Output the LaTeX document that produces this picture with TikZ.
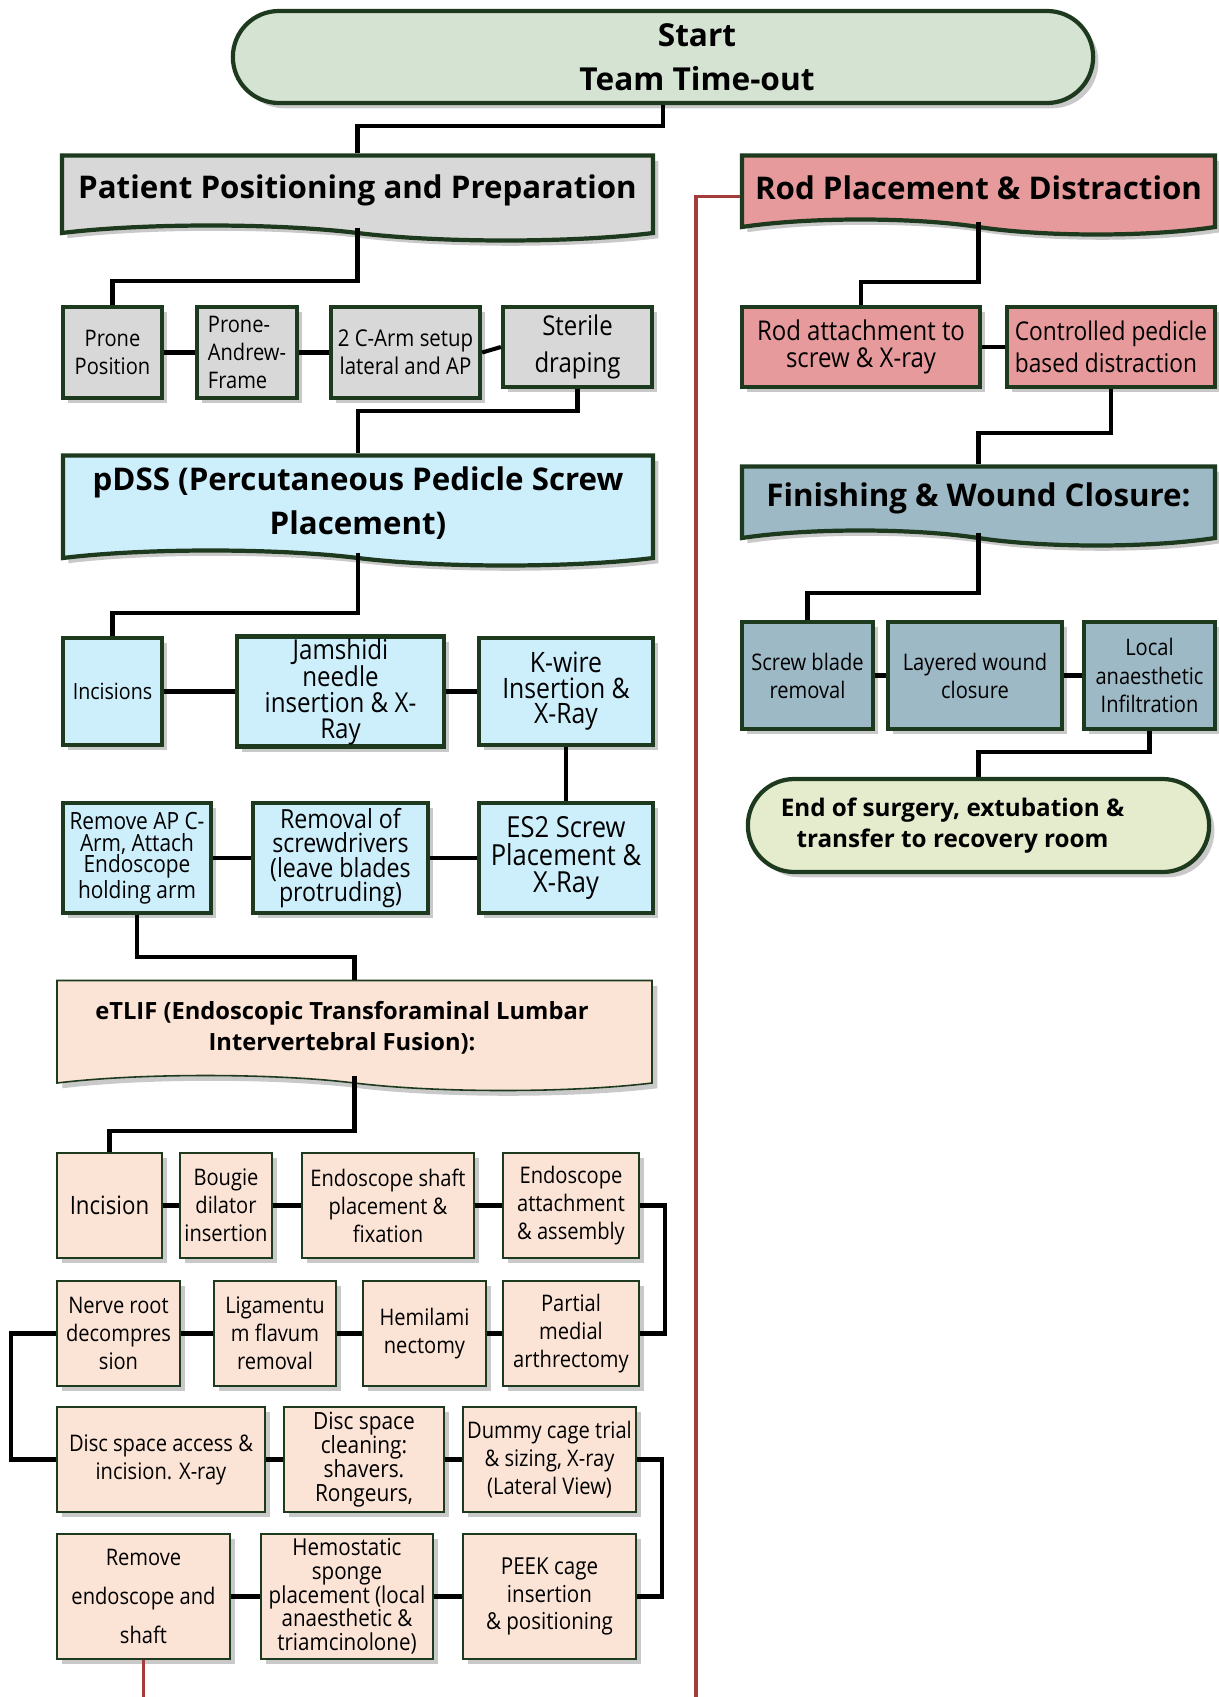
\documentclass[tikz,border=0pt]{standalone}
\usepackage{fontspec}
\setmainfont{Open Sans}
\newfontfamily\boxfont{Open Sans}[FakeStretch=0.88]
\usepackage{xcolor}
\usetikzlibrary{shapes.symbols, shapes.misc, shadows, positioning}
\definecolor{Pine}{HTML}{1E3A1E}
\definecolor{Sage}{HTML}{D5E3D3}
\definecolor{Ash}{HTML}{D8D8D8}
\definecolor{Sky}{HTML}{CDEEFB}
\definecolor{Rose}{HTML}{E79A9C}
\definecolor{Slate}{HTML}{9DB9C6}
\definecolor{Cream}{HTML}{E5EBCD}
\definecolor{Peach}{HTML}{FBE3D6}
\definecolor{Brick}{HTML}{A43C3C}
\tikzset{
  wh/.style 2 args={minimum width={#1*0.02cm}, minimum height={#2*0.02cm}},
  fs/.style 2 args={font=\boxfont\fontsize{#1}{#2}\selectfont},
  softshadow/.style={drop shadow={shadow xshift=3pt, shadow yshift=-3pt, opacity=0.3, fill=black!70}},
  stepbox/.style={rectangle, draw=Pine, line width=2.4pt, align=center, inner sep=1pt, softshadow, fs={13}{16}},
  etlifbox/.style={rectangle, draw=Pine, line width=0.9pt, fill=Peach, align=center, inner sep=1pt, softshadow, fs={13}{16}},
  headbox/.style={tape, tape bend top=none, tape bend bottom=out and in, tape bend height=0.3cm,
                  draw=Pine, line width=2.4pt, align=center, inner sep=2pt, softshadow,
                  font=\bfseries\fontsize{17.8}{25}\selectfont},
  ovalbox/.style={rounded rectangle, draw=Pine, line width=2.4pt, align=center, softshadow,
                  font=\bfseries\fontsize{18}{25}\selectfont},
  link/.style={line width=2.3pt, draw=black},
  redlink/.style={line width=1.8pt, draw=Brick}
}

\begin{document}
\begin{tikzpicture}[x=0.02cm, y=0.02cm]
    \useasboundingbox (0,0) rectangle (1219,-1697);

    % Start
    \node[ovalbox, fill=Sage, wh={872}{92}] (start) at (663,-57)
        {\hspace*{1.36cm}Start\\\hspace*{1.36cm}Team Time-out};

    % Patient positioning
    \node[headbox, fill=Ash, wh={591}{85}] (prep) at (357.5,-190.5) {Patient Positioning and Preparation};
    \node[stepbox, fill=Ash, wh={99}{91}] (prone) at (112.5,-352.5) {Prone\\Position};
    \node[stepbox, fill=Ash, wh={100}{91}, align=left] (frame) at (247,-352.5) {Prone-\\Andrew-\\Frame};
    \node[stepbox, fill=Ash, wh={149}{91}, fs={13.2}{16}] (carm) at (405.5,-352.5) {2 C-Arm setup\\lateral and AP};
    \node[stepbox, fill=Ash, wh={149}{80}, fs={15.5}{21}] (drape) at (577.5,-347) {Sterile\\draping};

    % pDSS
    \node[headbox, fill=Sky, wh={590}{110}] (pdss) at (358,-503) {pDSS (Percutaneous Pedicle Screw\\Placement)};
    \node[stepbox, fill=Sky, wh={99}{107}, fs={12.7}{16}] (cut) at (112.5,-691.5) {Incisions};
    \node[stepbox, fill=Sky, wh={207}{107}, fs={15.6}{14.6}] (jam) at (340.5,-691.5) {Jamshidi\\needle\\insertion \& X-\\Ray};
    \node[stepbox, fill=Sky, wh={174}{107}, fs={16}{14.5}] (kwire) at (566,-691.5) {K-wire\\Insertion \&\\X-Ray};
    \node[stepbox, fill=Sky, wh={174}{110}, fs={16.5}{15.5}] (es2) at (566,-858) {ES2 Screw\\Placement \&\\X-Ray};
    \node[stepbox, fill=Sky, wh={175}{110}, fs={15}{13.8}] (blades) at (340.5,-858) {Removal of\\screwdrivers\\(leave blades\\protruding)};
    \node[stepbox, fill=Sky, wh={148}{110}, fs={13.5}{12.5}] (arm) at (137,-858) {Remove AP C-\\Arm, Attach\\Endoscope\\holding arm};

    % eTLIF
    \node[headbox, fill=Peach, line width=0.9pt, wh={595}{110},
          font=\bfseries\fontsize{13.5}{17.6}\selectfont] (etlif) at (354.5,-1028)
          {\hspace*{-0.5cm}eTLIF (Endoscopic Transforaminal Lumbar\\\hspace*{-0.5cm}Intervertebral Fusion):};
    \node[etlifbox, wh={105}{105}, fs={14.4}{16}] (incision) at (109.5,-1205.5) {Incision};
    \node[etlifbox, wh={92}{105}] (bougie) at (226,-1205.5) {Bougie\\dilator\\insertion};
    \node[etlifbox, wh={172}{105}] (shaft) at (388,-1205.5) {Endoscope shaft\\placement \&\\fixation};
    \node[etlifbox, wh={136}{105}] (attach) at (571,-1205.5) {Endoscope\\attachment\\\& assembly};
    \node[etlifbox, wh={123}{105}] (nerve) at (118.5,-1333.5) {Nerve root\\decompres\\sion};
    \node[etlifbox, wh={122}{105}] (flavum) at (275,-1333.5) {Ligamentu\\m flavum\\removal};
    \node[etlifbox, wh={123}{105}] (hemi) at (424.5,-1333.5) {Hemilami\\nectomy};
    \node[etlifbox, wh={136}{105}] (facet) at (571,-1333.5) {Partial\\medial\\arthrectomy};
    \node[etlifbox, wh={208}{105}] (access) at (161,-1459.5) {Disc space access \&\\incision. X-ray};
    \node[etlifbox, wh={160}{105}, fs={13.5}{13.8}] (clean) at (364,-1459.5) {Disc space\\cleaning:\\shavers.\\Rongeurs,};
    \node[etlifbox, wh={173}{105}] (trial) at (549.5,-1459.5) {Dummy cage trial\\\& sizing, X-ray\\(Lateral View)};
    \node[etlifbox, wh={173}{125}, fs={13}{22}] (remendo) at (143.5,-1596.5) {Remove\\endoscope and\\shaft};
    \node[etlifbox, wh={172}{125}, fs={13.3}{13.5}] (sponge) at (347,-1596.5) {Hemostatic\\sponge\\placement (local\\anaesthetic \&\\triamcinolone)};
    \node[etlifbox, wh={173}{125}, fs={13.3}{15.6}] (cage) at (549.5,-1596.5) {PEEK cage\\insertion\\\& positioning};

    % Rod placement
    \node[headbox, fill=Rose, wh={473}{79}] (rod) at (978.5,-187.5) {Rod Placement \& Distraction};
    \node[stepbox, fill=Rose, wh={238}{80}, fs={15.5}{15}] (rodfix) at (861,-347) {Rod attachment to\\screw \& X-ray};
    \node[stepbox, fill=Rose, wh={208}{80}, fs={14.7}{18}, align=left] (distract) at (1111,-347) {Controlled pedicle\\based distraction};

    % Finishing
    \node[headbox, fill=Slate, wh={473}{79}] (finish) at (978.5,-498.5) {Finishing \& Wound Closure:};
    \node[stepbox, fill=Slate, wh={131}{107}] (blade) at (807.5,-675.5) {Screw blade\\removal};
    \node[stepbox, fill=Slate, wh={174}{107}] (wound) at (975,-675.5) {Layered wound\\closure};
    \node[stepbox, fill=Slate, wh={131}{107}] (local) at (1149.5,-675.5) {Local\\anaesthetic\\Infiltration};
    \node[ovalbox, fill=Cream, wh={473}{93}, font=\bfseries\fontsize{13.8}{17.6}\selectfont] (finale) at (978.5,-825.5)
          {\hspace*{-1.04cm}End of surgery, extubation \&\\\hspace*{-1.04cm}transfer to recovery room};

    % Connectors
    \draw[link] (start.south) -- ++(0,-21) -| (prep.north);
    \draw[link] (prep.south) -- ++(0,-53) -| (prone.north);
    \draw[link] (drape.south) -- ++(0,-22) -| (pdss.north);
    \draw[link] (pdss.south) -- ++(0,-60) -| (cut.north);
    \draw[link] (kwire.south) -- (es2.north);
    \draw[link] (arm.south) -- ++(0,-42) -| (etlif.north);
    \draw[link] (etlif.south) -- ++(0,-55) -| (incision.north);
    \draw[link] (attach.east) -- ++(25,0) |- (facet.east);
    \draw[link] (nerve.west) -- ++(-45,0) |- (access.west);
    \draw[link] (trial.east) -- ++(25,0) |- (cage.east);
    \foreach \a/\b in {prone/frame, frame/carm, carm/drape, cut/jam, jam/kwire, arm/blades, blades/es2,
                       incision/bougie, bougie/shaft, shaft/attach, nerve/flavum, flavum/hemi, hemi/facet,
                       access/clean, clean/trial, remendo/sponge, sponge/cage, rodfix/distract,
                       blade/wound, wound/local}
        \draw[link] (\a.east) -- (\b.west);
    \draw[link] (rod.south) -- ++(0,-60) -| (rodfix.north);
    \draw[link] (distract.south) -- ++(0,-44) -| (finish.north);
    \draw[link] (finish.south) -- ++(0,-60) -| (blade.north);
    \draw[link] (local.south) -- ++(0,-21) -| (finale.north);

    % Red return line
    \coordinate (redbend) at (696,-1740);
    \draw[redlink] (remendo.south) |- (redbend) |- ([yshift=-0.18cm]rod.west);
\end{tikzpicture}
\end{document}
